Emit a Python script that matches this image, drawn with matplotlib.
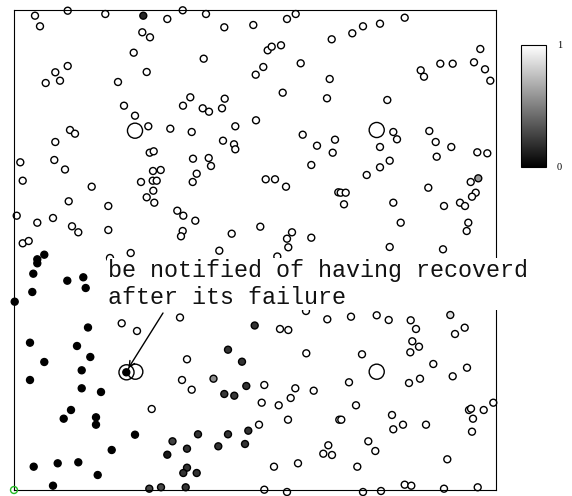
import numpy as np
import matplotlib
matplotlib.use("Agg")
import matplotlib.pyplot as plt

# node positions (x right, y down), value 1 = recovered (white), 0 = failed
white_x = [35, 67.7, 40, 105.3, 167.3, 142.3, 150, 133.7, 67.7, 55.3, 60, 45.7, 146.7, 118, 124, 135,
           148.3, 170.3, 70, 75, 55.3, 149.7, 153.7, 20.3, 54.3, 65, 153, 160.7,
           182.7, 206, 224.3, 253.3, 287, 295.7, 331.7, 267.7, 271.7, 281, 203.7, 263.3, 255.7, 300.7,
           329.7, 282.7, 327, 190.3, 183, 202.7, 209, 224.7, 222, 256, 235.3, 191.7, 302.7, 223, 234,
           235.3, 317, 335, 332.7, 193, 208.7, 211, 311.3,
           352.3, 363, 380, 404.7, 480.3, 420.7, 424, 440.3, 452.7, 474, 485, 490.3, 387.3, 393.3, 397,
           380, 429.3, 435.7, 451.3, 436.7, 477.3, 487.3, 389.7, 380,
           22.7, 91.7, 141, 152.7, 156.7, 153.3, 146.7, 154.3, 68.7, 108.3, 16.7, 37.3, 53, 72, 78.3,
           108.3, 177.3, 22.7, 28.7, 130.7, 110, 121.7, 137,
           196.7, 192.7, 265.7, 275, 286, 338.3, 183.3, 195.3, 182.7, 181, 231.7, 260.3, 292, 287, 288.3,
           311.3, 219.3, 277.3, 180, 306, 327.3, 280, 288.3,
           366.7, 340.7, 345.7, 344, 393.3, 428.3, 470.7, 475.7, 472, 460, 465, 444, 400.7, 468.3, 466.7,
           389.7, 443, 351, 376.7, 388.7, 410.7, 416, 464.7,
           151.7, 182, 187, 306.3, 191.7, 264.3, 295.3, 290.7, 313.7, 261.7, 278.7, 288, 339.3, 259, 274,
           298, 328.3, 323.3, 332, 264.3, 287,
           412.3, 419, 410.3, 455, 362, 433.3, 467, 452.7, 409, 420, 349, 356, 341.3, 392, 393.3, 403, 426,
           469, 471, 483.7, 493.3, 473, 472, 368.3, 375.3, 447.3, 357.3, 404.7, 411.3, 444, 477.7, 363, 381]
white_y = [15.7, 10.7, 26.3, 14, 19, 32.3, 37.3, 52.7, 66, 72.3, 80.7, 83, 72, 82, 105.7, 115.7,
           126.3, 128.7, 130, 133.7, 142, 152.7, 151.3, 162.3, 160, 169.5, 171, 170,
           10.3, 14, 27.3, 25, 19, 14, 39.3, 50.3, 46.7, 45.3, 58.7, 67, 74.7, 63.3,
           79, 92.7, 98.3, 97.3, 105.7, 108.3, 111.7, 98.7, 108.3, 120.3, 126.3, 132, 134.7, 140.7, 144.3,
           149.3, 145.7, 139.7, 152.7, 158.7, 158, 166, 165,
           33.3, 26.3, 23.7, 17.7, 49, 70.3, 76.7, 63.7, 63.7, 62.3, 69.3, 80.7, 100, 132, 139.3,
           147, 131, 142, 147, 156.7, 152.3, 153.3, 160.7, 167.3,
           180.7, 186.7, 182, 180.7, 180.7, 190.7, 197.3, 202.7, 201.3, 206, 215.7, 222.7, 218, 226.3, 232.3,
           230, 210.7, 243.3, 241, 253, 258, 323.3, 331,
           173.7, 182, 179.3, 179.3, 186.7, 192.3, 215.7, 220.7, 231, 236.3, 233.7, 226.7, 232.3, 238.7, 247.3,
           237.7, 250.7, 256.5, 317.5, 311, 319.3, 329, 330,
           175, 192.7, 192.7, 204.3, 202.7, 187.7, 182, 192.7, 196.7, 202.7, 206, 206, 222.7, 222.7, 231,
           247, 249.3, 316.7, 315.3, 320, 320.3, 329, 327.7,
           409, 380, 359.3, 353.3, 389.7, 385, 388.3, 398, 390.7, 402.7, 405.3, 419.7, 419.7, 424.7, 466.7,
           463.3, 445.3, 453.7, 455, 489.7, 492,
           341.3, 346.7, 352.3, 334, 354.3, 364, 367.7, 376.3, 383, 378.7, 382.3, 405.3, 419.7, 415, 429.3,
           424.7, 424.7, 410, 408.7, 410, 402.7, 418.7, 431.7, 441.3, 451, 459.3, 466.7, 484.7, 485.7,
           488.7, 487.3, 492, 491]

black_x = [44.3, 37.3, 37.3, 33.3, 67.3, 83.3, 85.7, 32.3, 14.7, 88, 30, 77, 90.3, 44.3, 81.7, 30,
           81.7, 101, 71, 63.7, 96, 96, 135, 111.7, 33.7, 57.7, 78.3, 97.7, 53, 126.3]
black_y = [254.7, 259.3, 263.3, 273.7, 280.7, 277.3, 288, 292, 301.7, 327.5, 342.7, 346, 357, 362, 370.3, 380,
           388.3, 392, 410, 418.7, 417.3, 424.7, 434.7, 450, 466.7, 463.3, 462.3, 475, 485.7, 372.3]

grey_x = [143.3, 167.3, 172.5, 254.7, 228, 242, 246.3, 224.3, 234.3, 248.3, 228, 198, 187, 218.3, 245,
          187, 183.3, 196.7, 185.7, 149.3, 161, 213.5, 478.3, 450.3]
grey_y = [15.7, 454.7, 441.3, 325.5, 349.7, 361.7, 386, 394, 395.7, 430.7, 434.3, 434.3, 448.7, 446.3, 444,
          467.7, 473, 473, 487.3, 488.7, 487.3, 378.7, 178.3, 315]
grey_v = [0.15, 0.1, 0.25, 0.2, 0.2, 0.2, 0.2, 0.22, 0.22, 0.2, 0.2, 0.2, 0.2, 0.2, 0.2,
          0.2, 0.2, 0.2, 0.2, 0.28, 0.28, 0.55, 0.6, 0.87]

# big highlight rings
ring_x = [135, 376.7, 376.7, 126.5, 135.3]
ring_y = [130.7, 130, 371.7, 372.3, 371.7]

note = "be notified of having recoverd\nafter its failure"

xs = np.array(white_x + black_x + grey_x)
ys = np.array(white_y + black_y + grey_y)
vs = np.array([1.0] * len(white_x) + [0.0] * len(black_x) + grey_v)

fig = plt.figure(figsize=(5.72, 4.96), dpi=100)
ax = fig.add_axes([14 / 572, 1 - 490 / 496, 482 / 572, 480 / 496])

sc = ax.scatter(xs, ys, c=vs, cmap='gray', vmin=0, vmax=1, s=25,
                edgecolors='k', linewidths=1.0, clip_on=False, zorder=2)
ax.scatter(ring_x, ring_y, s=118, facecolors='none', edgecolors='k',
           linewidths=1.0, clip_on=False, zorder=2)
ax.scatter([14], [490], s=25, facecolors='none', edgecolors='#22bb22',
           linewidths=1.0, clip_on=False, zorder=3)

ax.set_xlim(14, 496)
ax.set_ylim(490, 10)
ax.set_xticks([])
ax.set_yticks([])
for sp in ax.spines.values():
    sp.set_linewidth(0.8)

ax.text(108, 304, note, family=['Liberation Mono', 'DejaVu Sans Mono'], fontsize=16.8,
        va='baseline', ha='left', color='#111111', zorder=5,
        bbox=dict(facecolor='white', edgecolor='none', pad=1))
ax.annotate('', xy=(128.5, 368), xytext=(163, 313),
            arrowprops=dict(arrowstyle='->', color='k', lw=1, shrinkA=0, shrinkB=0),
            zorder=6)

cax = fig.add_axes([521 / 572, 1 - 167 / 496, 25 / 572, 122 / 496])
cb = fig.colorbar(sc, cax=cax)
cb.set_ticks([0, 1])
cb.outline.set_linewidth(0.8)
cax.tick_params(length=0, pad=8)
for t in cax.get_yticklabels():
    t.set_family(['Liberation Serif', 'DejaVu Serif'])
    t.set_fontsize(7.5)

fig.savefig('out.png', dpi=100)
